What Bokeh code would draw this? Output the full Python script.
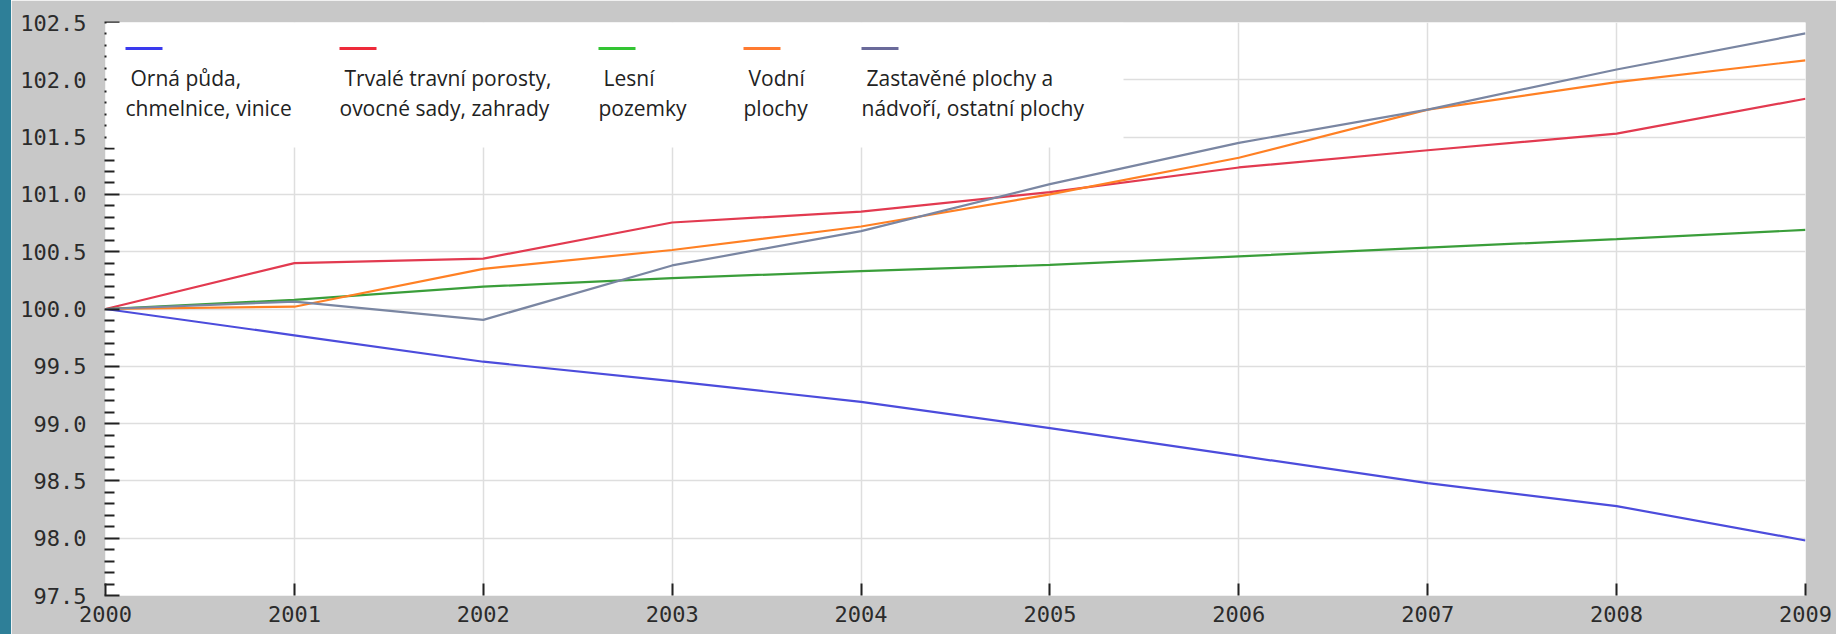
from bokeh.plotting import figure
from bokeh.models import Range1d, BoxAnnotation, Label, FixedTicker, PrintfTickFormatter, Div
from bokeh.layouts import row
from bokeh.embed import file_html
from bokeh.resources import INLINE

# ---------------- data ----------------
years = [2000, 2001, 2002, 2003, 2004, 2005, 2006, 2007, 2008, 2009]
orna_puda = [100.0, 99.77, 99.54, 99.37, 99.19, 98.96, 98.72, 98.48, 98.28, 97.98]
trvale_porosty = [100.0, 100.40, 100.44, 100.755, 100.85, 101.02, 101.235, 101.385, 101.53, 101.835]
lesni_pozemky = [100.0, 100.08, 100.195, 100.27, 100.33, 100.385, 100.46, 100.535, 100.61, 100.69]
vodni_plochy = [100.0, 100.02, 100.35, 100.515, 100.72, 101.0, 101.32, 101.74, 101.98, 102.17]
zastavene_plochy = [100.0, 100.065, 99.905, 100.38, 100.68, 101.09, 101.45, 101.74, 102.09, 102.405]

series = [orna_puda, trvale_porosty, lesni_pozemky, vodni_plochy, zastavene_plochy]
line_colors = ["#4c4cdc", "#e23a50", "#3a9e3a", "#ff8024", "#7a86a2"]
legend_colors = ["#3a3aee", "#ee2a3a", "#33c433", "#ff7a30", "#6a6a9a"]
legend_line1 = ["Orná půda,", "Trvalé travní porosty,", "Lesní", "Vodní", "Zastavěné plochy a"]
legend_line2 = ["chmelnice, vinice", "ovocné sady, zahrady", "pozemky", "plochy", "nádvoří, ostatní plochy"]

y_ticks = [97.5, 98.0, 98.5, 99.0, 99.5, 100.0, 100.5, 101.0, 101.5, 102.0, 102.5]
y_minor = [round(t + k * 0.1, 2) for t in y_ticks[:-1] for k in range(1, 5)]

# ---------------- layout (page pixels) ----------------
STRIP = 11
W, H = 1836 - STRIP, 634
FL, FR, FT, FB = 105, 1805, 22, 595   # frame edges on the page
X0, X1, Y0, Y1 = 2000, 2009, 97.5, 102.5


def xd(px):
    return X0 + (px - FL) / (FR - FL) * (X1 - X0)


def yd(py):
    return Y1 - (py - FT) / (FB - FT) * (Y1 - Y0)


p = figure(width=W, height=H,
           x_range=Range1d(X0, X1), y_range=Range1d(Y0, Y1),
           output_backend="svg", toolbar_location=None,
           min_border_left=FL - STRIP, min_border_right=1836 - FR,
           min_border_top=FT, min_border_bottom=H - FB,
           background_fill_color="white", border_fill_color="#c8c8c8",
           outline_line_color=None, margin=(0, 0, 0, 0))

for vals, col in zip(series, line_colors):
    p.line(years, vals, line_color=col, line_width=2.2)

# axes
p.xaxis.ticker = FixedTicker(ticks=years)
p.xaxis.axis_line_color = None
p.xaxis.major_tick_in = 12
p.xaxis.major_tick_out = 0
p.xaxis.minor_tick_in = 0
p.xaxis.minor_tick_out = 0
p.xaxis.major_tick_line_color = "#222222"
p.xaxis.major_tick_line_width = 2
p.xaxis.major_label_text_font = "DejaVu Sans Mono"
p.xaxis.major_label_text_font_size = "22px"
p.xaxis.major_label_text_color = "#2b2b2b"
p.xaxis.major_label_standoff = 10

p.yaxis.ticker = FixedTicker(ticks=y_ticks, minor_ticks=y_minor)
p.yaxis.formatter = PrintfTickFormatter(format="%.1f")
p.yaxis.axis_line_color = None
p.yaxis.major_tick_in = 14
p.yaxis.major_tick_out = 1
p.yaxis.minor_tick_in = 9
p.yaxis.minor_tick_out = 1
p.yaxis.major_tick_line_color = "#222222"
p.yaxis.minor_tick_line_color = "#222222"
p.yaxis.major_tick_line_width = 2
p.yaxis.minor_tick_line_width = 2
p.yaxis.major_label_text_font = "DejaVu Sans Mono"
p.yaxis.major_label_text_font_size = "22px"
p.yaxis.major_label_text_color = "#2b2b2b"
p.yaxis.major_label_standoff = 18

p.xgrid.ticker = FixedTicker(ticks=years)
p.ygrid.ticker = FixedTicker(ticks=y_ticks)
p.grid.grid_line_color = "#dedede"
p.grid.grid_line_width = 1.5

# custom legend box (covers top-left of the plot)
p.add_layout(BoxAnnotation(left=xd(106), right=xd(1123), top=yd(FT), bottom=yd(147),
                           fill_color="white", fill_alpha=1.0, line_color=None))

entry_x = [125, 339, 598, 743, 861]
for ex, lc, t1, t2 in zip(entry_x, legend_colors, legend_line1, legend_line2):
    p.add_layout(BoxAnnotation(left=xd(ex), right=xd(ex + 37), top=yd(46.5), bottom=yd(49.5),
                               fill_color=lc, fill_alpha=1.0, line_color=None))
    p.add_layout(Label(x=xd(ex + 5), y=yd(77), text=t1, text_font="Open Sans",
                       text_font_size="21px", text_color="#222222", text_baseline="alphabetic"))
    p.add_layout(Label(x=xd(ex), y=yd(107), text=t2, text_font="Open Sans",
                       text_font_size="21px", text_color="#222222", text_baseline="alphabetic"))

strip = Div(text="", width=STRIP, height=H, margin=(0, 0, 0, 0),
            styles={"background-color": "#2e7f98"})
layout = row(strip, p, spacing=0, margin=(0, 0, 0, 0))

open("out.html", "w").write(file_html(layout, INLINE))
